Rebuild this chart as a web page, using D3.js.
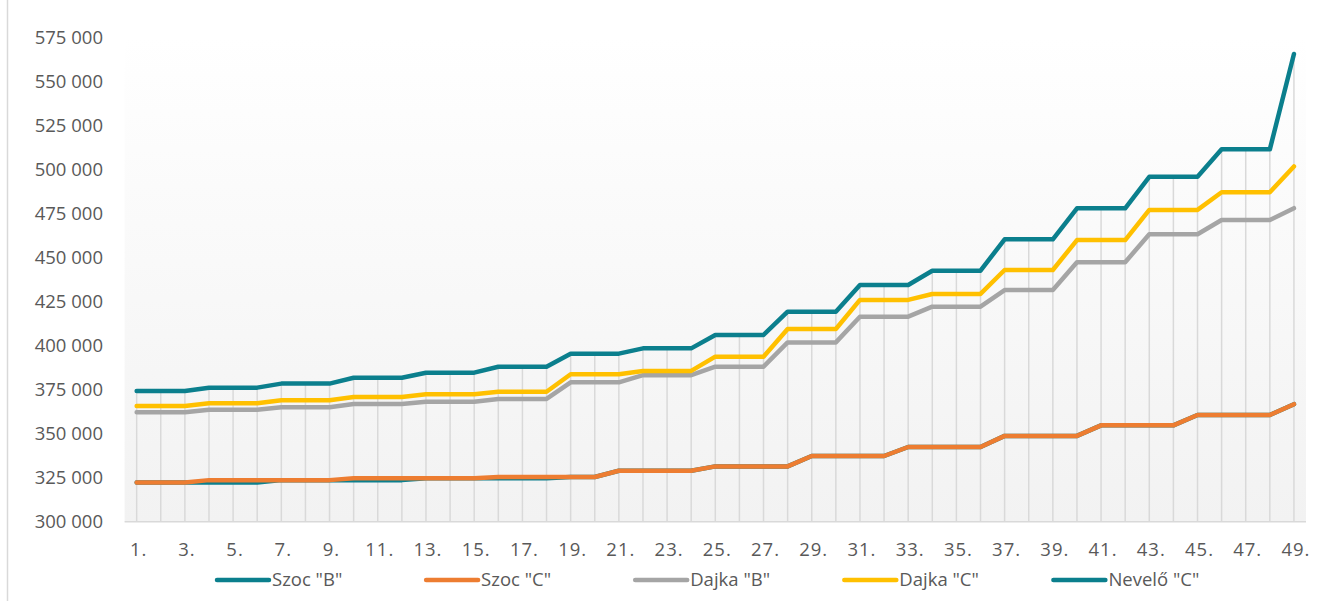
<!DOCTYPE html>
<html lang="hu">
<head>
    <meta charset="UTF-8">
    <title>Bértábla</title>
    <script src="https://cdnjs.cloudflare.com/ajax/libs/d3/7.6.1/d3.min.js"></script>
    <style>
        body { margin: 0; background: #fff; }
        text { font-family: "Open Sans", sans-serif; fill: #595959; }
    </style>
</head>
<body>
<svg id="chart" width="1330" height="601"></svg>
<script>
    // categories 1. .. 49.
    const categories = d3.range(1, 50).map(d => d + ".")

    // series values
    const szocB = [322300,322300,322300,322300,322300,322300,323600,323600,323600,323600,323600,323600,
        324600,324600,324600,324600,324600,324600,325400,325400,328900,328900,328900,328900,
        331400,331400,331400,331400,337300,337300,337300,337300,342400,342400,342400,342400,
        348700,348700,348700,348700,354700,354700,354700,354700,360600,360600,360600,360600,366700]
    const szocC = [322300,322300,322300,323600,323600,323600,323600,323600,323600,324600,324600,324600,
        324600,324600,324600,325400,325400,325400,325400,325400,328900,328900,328900,328900,
        331400,331400,331400,331400,337300,337300,337300,337300,342400,342400,342400,342400,
        348700,348700,348700,348700,354700,354700,354700,354700,360600,360600,360600,360600,366700]
    const dajkaB = [362100,362100,362100,363600,363600,363600,365000,365000,365000,366800,366800,366800,
        368100,368100,368100,369700,369700,369700,379100,379100,379100,383200,383200,383200,
        388000,388000,388000,401800,401800,401800,416400,416400,416400,422100,422100,422100,
        431500,431500,431500,447300,447300,447300,463200,463200,463200,471300,471300,471300,478000]
    const dajkaC = [365700,365700,365700,367200,367200,367200,368900,368900,368900,370800,370800,370800,
        372300,372300,372300,373800,373800,373800,383700,383700,383700,385600,385600,385600,
        393700,393700,393700,409400,409400,409400,425900,425900,425900,429300,429300,429300,
        442900,442900,442900,459900,459900,459900,477000,477000,477000,487000,487000,487000,501700]
    const neveloC = [374200,374200,374200,376100,376100,376100,378400,378400,378400,381700,381700,381700,
        384600,384600,384600,388000,388000,388000,395400,395400,395400,398400,398400,398400,
        406000,406000,406000,419200,419200,419200,434400,434400,434400,442500,442500,442500,
        460300,460300,460300,477900,477900,477900,495800,495800,495800,511400,511400,511400,565500]

    const seriesNames = ['Szoc "B"', 'Szoc "C"', 'Dajka "B"', 'Dajka "C"', 'Nevelő "C"']
    const seriesValues = [szocB, szocC, dajkaB, dajkaC, neveloC]
    const colors = ["#0b7f8d", "#ed7d31", "#a5a5a5", "#ffc000", "#0b7f8d"]

    const yTicks = d3.range(300000, 575001, 25000)

    const svg = d3.select("#chart")
    const plotLeft = 124.6, plotRight = 1306, plotTop = 37.3, plotBottom = 521.7

    const x = d3.scalePoint().domain(categories).range([plotLeft, plotRight]).padding(0.5)
    const y = d3.scaleLinear().domain([300000, 575000]).range([plotBottom, plotTop])

    const huFormat = d3.formatLocale({decimal: ",", thousands: "\u00a0", grouping: [3], currency: ["", ""]}).format(",")

    // chart border on the left
    svg.append("line")
        .attr("x1", 7.5).attr("x2", 7.5).attr("y1", 0).attr("y2", 601)
        .style("stroke", "#d9d9d9").style("stroke-width", 1.5)

    // plot area gradient
    const grad = svg.append("defs").append("linearGradient")
        .attr("id", "bg").attr("x1", 0).attr("x2", 0).attr("y1", 0).attr("y2", 1)
    grad.append("stop").attr("offset", "0%").attr("stop-color", "#ffffff")
    grad.append("stop").attr("offset", "100%").attr("stop-color", "#f2f2f2")

    svg.append("rect")
        .attr("x", plotLeft).attr("y", plotTop)
        .attr("width", plotRight - plotLeft).attr("height", plotBottom - plotTop)
        .attr("fill", "url(#bg)")

    // drop lines from the highest point of each category
    svg.append("g")
        .selectAll("line")
        .data(categories)
        .join("line")
        .attr("x1", d => x(d)).attr("x2", d => x(d))
        .attr("y1", (d, i) => y(d3.max(seriesValues, s => s[i])))
        .attr("y2", plotBottom)
        .style("stroke", "#d9d9d9")
        .style("stroke-width", 1.5)

    // x axis line
    svg.append("line")
        .attr("x1", plotLeft).attr("x2", plotRight).attr("y1", plotBottom).attr("y2", plotBottom)
        .style("stroke", "#d9d9d9").style("stroke-width", 1.5)

    // y labels
    svg.append("g")
        .selectAll("text")
        .data(yTicks)
        .join("text")
        .attr("x", 103)
        .attr("y", d => y(d))
        .attr("dy", "0.35em")
        .attr("text-anchor", "end")
        .style("font-size", "18.5px")
        .text(d => huFormat(d))

    // x labels
    svg.append("g")
        .selectAll("text")
        .data(categories.filter((d, i) => i % 2 === 0))
        .join("text")
        .attr("x", d => x(d) + 2)
        .attr("y", 550)
        .attr("dy", "0.35em")
        .attr("text-anchor", "middle")
        .style("font-size", "18.5px")
        .style("letter-spacing", "1px")
        .text(d => d)

    // lines
    const line = d3.line()
        .x((d, i) => x(categories[i]))
        .y(d => y(d))

    svg.append("g")
        .selectAll("path")
        .data(seriesValues)
        .join("path")
        .attr("d", d => line(d))
        .style("fill", "none")
        .style("stroke", (d, i) => colors[i])
        .style("stroke-width", 4.5)
        .style("stroke-linejoin", "round")
        .style("stroke-linecap", "round")

    // legend
    const legend = svg.append("g")
        .selectAll("g")
        .data(seriesNames)
        .join("g")
        .attr("transform", (d, i) => `translate(${217 + i * 209.1}, 580)`)

    legend.append("line")
        .attr("x1", 0).attr("x2", 52)
        .style("stroke", (d, i) => colors[i])
        .style("stroke-width", 4.5)
        .style("stroke-linecap", "round")

    legend.append("text")
        .attr("x", 55)
        .attr("dy", "0.35em")
        .style("font-size", "18.5px")
        .text(d => d)
</script>
</body>
</html>
